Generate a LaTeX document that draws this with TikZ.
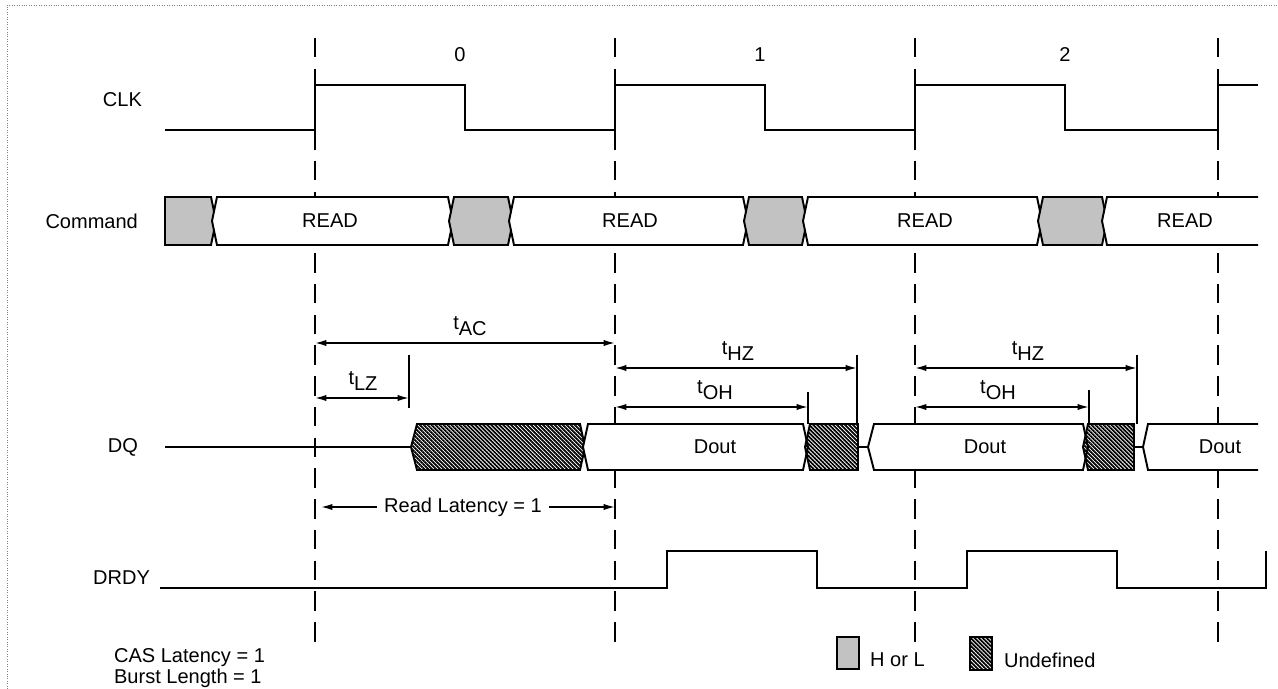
\documentclass[tikz,border=0pt]{standalone}
\usepackage{fontspec}
\setmainfont{Liberation Sans}
\usepackage{tikz}
\usetikzlibrary{
    arrows.meta, % pontas de seta
    patterns.meta % hachuras
}
\tikzset{>={Latex[length=6.5pt,width=3.6pt]}}
\tikzset{
    lbl/.style={font=\fontsize{11.4}{11.6}\selectfont, inner sep=1pt},
    sig/.style={line width=1.1pt, line join=miter},
    cell/.style={sig, fill=white},
    grid/.style={line width=1pt, dash pattern=on 11pt off 6.5pt},
    hl/.style={draw, line width=1.1pt, fill=black!24},
    undef/.style={draw, line width=1.1pt, pattern={Lines[angle=-45,distance=1.6pt,line width=1pt]}},
    dim/.style={<->, line width=0.9pt},
    tick/.style={line width=0.9pt}
}

\begin{document}
\begin{tikzpicture}[x=0.02cm, y=-0.02cm]
      \useasboundingbox (0,0) rectangle (1278,689);
      \draw[densely dotted, gray] (7,689) -- (7,5) -- (1278,5);

      % simple knobs (levels, in pixels from the top)
      \def\ClkHi{85}   \def\ClkLo{130}
      \def\CmdT{197}   \def\CmdM{221}   \def\CmdB{245}
      \def\DqT{424}    \def\DqM{447}    \def\DqB{470}
      \def\RdyHi{551}  \def\RdyLo{588}

      % ===================== CLOCK EDGES =====================
      \draw[grid] (315,38) -- (315,642);
      \draw[grid] (615,38) -- (615,642);
      \draw[grid] (915,38) -- (915,642);
      \draw[grid] (1218,38) -- (1218,642);
      \node[lbl] (cyc0) at (460,55) {0};
      \node[lbl] (cyc1) at (760,55) {1};
      \node[lbl] (cyc2) at (1065,55) {2};

      % signal names
      \node[lbl, anchor=east] (nclk) at (144,100) {CLK};
      \node[lbl, anchor=east] (ncmd) at (140,\CmdM) {Command};
      \node[lbl, anchor=east] (ndq) at (140,\DqM) {DQ};
      \node[lbl, anchor=east] (nrdy) at (152,578) {DRDY};

      % ===================== CLK =====================
      \draw[sig] (165,\ClkLo) -- (315,\ClkLo) -- (315,\ClkHi) -- (465,\ClkHi) -- (465,\ClkLo)
                 -- (615,\ClkLo) -- (615,\ClkHi) -- (765,\ClkHi) -- (765,\ClkLo)
                 -- (915,\ClkLo) -- (915,\ClkHi) -- (1065,\ClkHi) -- (1065,\ClkLo)
                 -- (1218,\ClkLo) -- (1218,\ClkHi) -- (1258,\ClkHi);

      % ===================== COMMAND =====================
      \path[hl] (165,\CmdT) -- (211,\CmdT) -- (216,\CmdM) -- (211,\CmdB) -- (165,\CmdB) -- cycle;
      \draw[cell] (217,\CmdT) -- (448,\CmdT) -- (453,\CmdM) -- (448,\CmdB) -- (217,\CmdB) -- (212,\CmdM) -- cycle;
      \path[hl] (454,\CmdT) -- (508,\CmdT) -- (513,\CmdM) -- (508,\CmdB) -- (454,\CmdB) -- (449,\CmdM) -- cycle;
      \draw[cell] (514,\CmdT) -- (743,\CmdT) -- (748,\CmdM) -- (743,\CmdB) -- (514,\CmdB) -- (509,\CmdM) -- cycle;
      \path[hl] (749,\CmdT) -- (802,\CmdT) -- (807,\CmdM) -- (802,\CmdB) -- (749,\CmdB) -- (744,\CmdM) -- cycle;
      \draw[cell] (808,\CmdT) -- (1037,\CmdT) -- (1042,\CmdM) -- (1037,\CmdB) -- (808,\CmdB) -- (803,\CmdM) -- cycle;
      \path[hl] (1043,\CmdT) -- (1102,\CmdT) -- (1107,\CmdM) -- (1102,\CmdB) -- (1043,\CmdB) -- (1038,\CmdM) -- cycle;
      \draw[cell] (1258,\CmdT) -- (1107,\CmdT) -- (1102,\CmdM) -- (1107,\CmdB) -- (1258,\CmdB);
      \node[lbl] (cmd0) at (330,\CmdM) {READ};
      \node[lbl] (cmd1) at (630,\CmdM) {READ};
      \node[lbl] (cmd2) at (925,\CmdM) {READ};
      \node[lbl] (cmd3) at (1185,\CmdM) {READ};

      % ===================== DQ =====================
      \draw[sig] (165,\DqM) -- (411,\DqM);
      \path[undef] (411,\DqM) -- (417,\DqT) -- (580,\DqT) -- (585,\DqM) -- (580,\DqB) -- (417,\DqB) -- cycle;
      \draw[cell] (588,\DqT) -- (803,\DqT) -- (808,\DqM) -- (803,\DqB) -- (588,\DqB) -- (583,\DqM) -- cycle;
      \path[undef] (810,\DqT) -- (858,\DqT) -- (858,\DqB) -- (810,\DqB) -- (805,\DqM) -- cycle;
      \draw[sig] (858,\DqM) -- (868,\DqM);
      \draw[cell] (868,\DqM) -- (874,\DqT) -- (1083,\DqT) -- (1088,\DqM) -- (1083,\DqB) -- (874,\DqB) -- cycle;
      \path[undef] (1088,\DqT) -- (1134,\DqT) -- (1134,\DqB) -- (1088,\DqB) -- (1083,\DqM) -- cycle;
      \draw[sig] (1134,\DqM) -- (1143,\DqM);
      \draw[cell] (1258,\DqT) -- (1148,\DqT) -- (1143,\DqM) -- (1148,\DqB) -- (1258,\DqB);
      \node[lbl] (dout0) at (715,\DqM) {Dout};
      \node[lbl] (dout1) at (985,\DqM) {Dout};
      \node[lbl] (dout2) at (1220,\DqM) {Dout};

      % ===================== TIMING =====================
      \coordinate (acL) at (315,343);   \coordinate (acR) at (615,343);
      \coordinate (lzL) at (315,398);   \coordinate (lzR) at (409,398);
      \coordinate (hzaL) at (615,368);  \coordinate (hzaR) at (857,368);
      \coordinate (ohaL) at (615,407);  \coordinate (ohaR) at (808,407);
      \coordinate (hzbL) at (915,368);  \coordinate (hzbR) at (1137,368);
      \coordinate (ohbL) at (915,407);  \coordinate (ohbR) at (1089,407);

      % ticks
      \draw[tick] (409,355) -- (409,408);
      \draw[tick] (857,355) -- (857,\DqT);
      \draw[tick] (808,392) -- (808,\DqT);
      \draw[tick] (1137,355) -- (1137,\DqT);
      \draw[tick] (1089,390) -- (1089,\DqT);

      \draw[dim] (acL) -- (acR);
      \draw[dim] (lzL) -- (lzR);
      \draw[dim] (hzaL) -- (hzaR);
      \draw[dim] (ohaL) -- (ohaR);
      \draw[dim] (hzbL) -- (hzbR);
      \draw[dim] (ohbL) -- (ohbR);

      \node[lbl] (tac) at (470,326) {t\raisebox{-.55ex}{AC}};
      \node[lbl] (tlz) at (363,381) {t\raisebox{-.55ex}{LZ}};
      \node[lbl] (thza) at (738,351) {t\raisebox{-.55ex}{HZ}};
      \node[lbl] (toha) at (715,390) {t\raisebox{-.55ex}{OH}};
      \node[lbl] (thzb) at (1028,351) {t\raisebox{-.55ex}{HZ}};
      \node[lbl] (tohb) at (998,390) {t\raisebox{-.55ex}{OH}};

      % read latency
      \node[lbl, inner sep=4pt] (rl) at (463,507) {Read Latency = 1};
      \coordinate (rlL) at (321,507);   \coordinate (rlR) at (615,507);
      \draw[->, line width=0.9pt] (rl.west) -- (rlL);
      \draw[->, line width=0.9pt] (rl.east) -- (rlR);

      % ===================== DRDY =====================
      \draw[sig] (160,\RdyLo) -- (667,\RdyLo) -- (667,\RdyHi) -- (817,\RdyHi) -- (817,\RdyLo)
                 -- (967,\RdyLo) -- (967,\RdyHi) -- (1117,\RdyHi) -- (1117,\RdyLo)
                 -- (1266,\RdyLo) -- (1266,\RdyHi);

      % ===================== NOTES / LEGEND =====================
      \node[lbl, anchor=west, align=left] (notes) at (112,668) {CAS Latency = 1\\Burst Length = 1};
      \path[hl, line width=0.9pt] (837,637) rectangle (859,669);
      \node[lbl, anchor=west] (khl) at (868,660) {H or L};
      \path[undef, line width=0.9pt] (970,637) rectangle (992,670);
      \node[lbl, anchor=west] (kun) at (1002,660) {Undefined};
    \end{tikzpicture}
\end{document}
